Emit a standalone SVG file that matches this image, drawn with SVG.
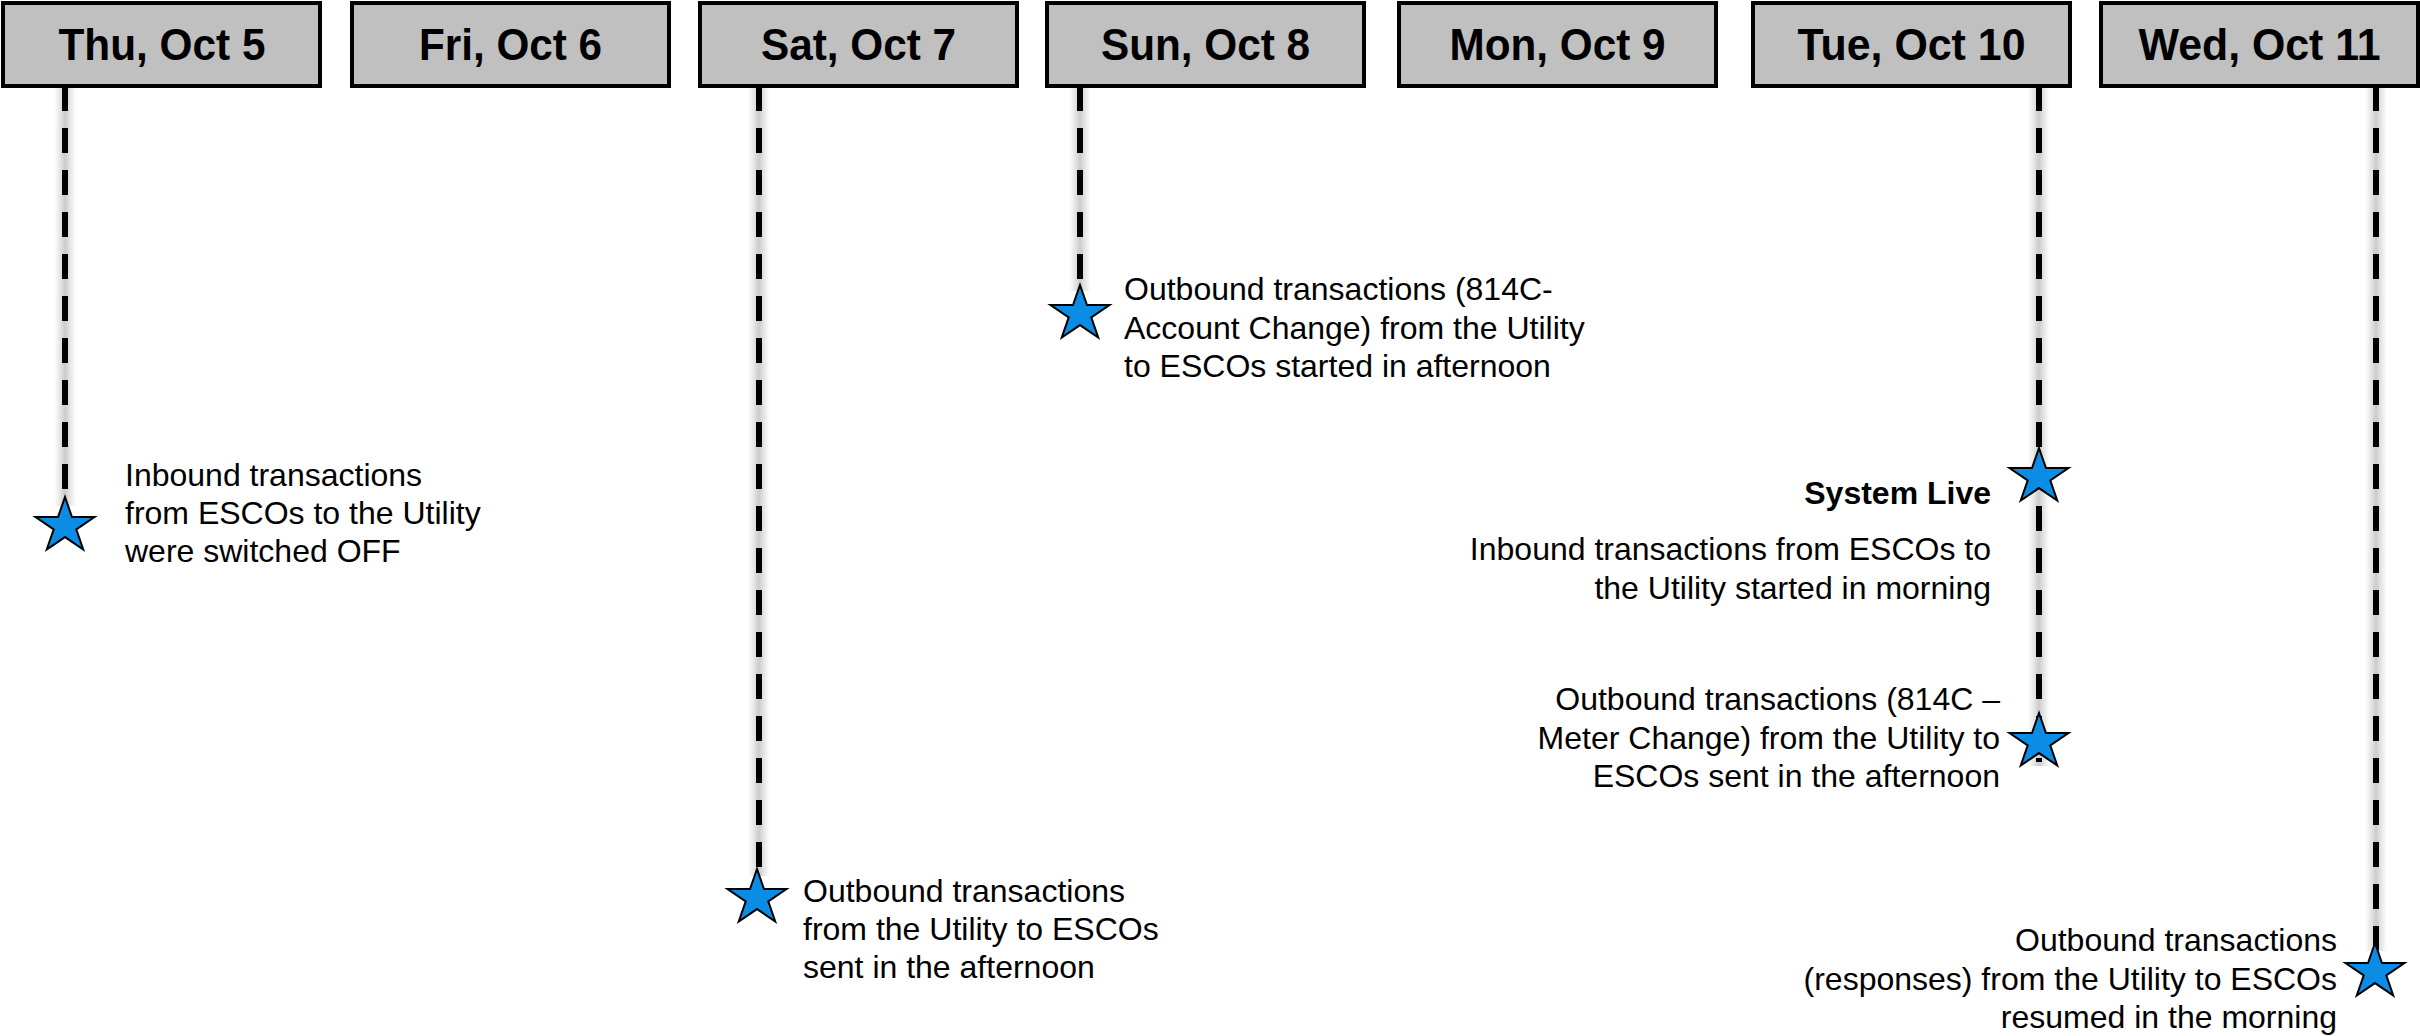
<svg xmlns="http://www.w3.org/2000/svg" width="2420" height="1036" viewBox="0 0 2420 1036">
<style>
.box{fill:#c0c0c0;stroke:#000;stroke-width:4}
.hd{font-family:"Liberation Sans",Arial,sans-serif;font-weight:bold;font-size:44px;fill:#000;text-anchor:middle}
.t{font-family:"Liberation Sans",Arial,sans-serif;font-size:32px;fill:#000}
.b{font-weight:bold}
.r{text-anchor:end}
.dash{stroke:#000;stroke-width:6;stroke-dasharray:25 17;fill:none}
.glow{fill:url(#gl)}
.star{fill:#0b8de6;stroke:#000;stroke-width:2;stroke-linejoin:miter}
</style>
<defs>
<linearGradient id="gl" x1="0" y1="0" x2="1" y2="0">
<stop offset="0" stop-color="#d4d4d4" stop-opacity="0"/>
<stop offset="0.5" stop-color="#cbcbcb" stop-opacity="1"/>
<stop offset="1" stop-color="#d4d4d4" stop-opacity="0"/>
</linearGradient>
<path id="star" d="M0,-29 L6.97,-8.96 L29.51,-8.96 L11.27,3.42 L18.24,23.46 L0,11.08 L-18.24,23.46 L-11.27,3.42 L-29.51,-8.96 L-6.97,-8.96 Z"/>
</defs>
<rect width="2420" height="1036" fill="#fff"/>
<g id="connectors">
<rect class="glow" x="54" y="86" width="22" height="420"/>
<line class="dash" x1="65" y1="86" x2="65" y2="505"/>
<rect class="glow" x="748" y="86" width="22" height="790"/>
<line class="dash" x1="759" y1="86" x2="759" y2="875"/>
<rect class="glow" x="1069" y="86" width="22" height="205"/>
<line class="dash" x1="1080" y1="86" x2="1080" y2="290"/>
<rect class="glow" x="2028" y="86" width="22" height="680"/>
<line class="dash" x1="2039" y1="86" x2="2039" y2="762"/>
<rect class="glow" x="2365" y="86" width="22" height="865"/>
<line class="dash" x1="2376" y1="86" x2="2376" y2="950"/>
</g>
<g id="hdr-thu"><rect class="box" x="3" y="3" width="317" height="83"/><text class="hd" x="162" y="60" textLength="207" lengthAdjust="spacingAndGlyphs">Thu, Oct 5</text></g>
<g id="hdr-fri"><rect class="box" x="352" y="3" width="317" height="83"/><text class="hd" x="510.5" y="60" textLength="183" lengthAdjust="spacingAndGlyphs">Fri, Oct 6</text></g>
<g id="hdr-sat"><rect class="box" x="700" y="3" width="317" height="83"/><text class="hd" x="858.5" y="60" textLength="195" lengthAdjust="spacingAndGlyphs">Sat, Oct 7</text></g>
<g id="hdr-sun"><rect class="box" x="1047" y="3" width="317" height="83"/><text class="hd" x="1205.5" y="60" textLength="209" lengthAdjust="spacingAndGlyphs">Sun, Oct 8</text></g>
<g id="hdr-mon"><rect class="box" x="1399" y="3" width="317" height="83"/><text class="hd" x="1557.5" y="60" textLength="216" lengthAdjust="spacingAndGlyphs">Mon, Oct 9</text></g>
<g id="hdr-tue"><rect class="box" x="1753" y="3" width="317" height="83"/><text class="hd" x="1911.5" y="60" textLength="228" lengthAdjust="spacingAndGlyphs">Tue, Oct 10</text></g>
<g id="hdr-wed"><rect class="box" x="2101" y="3" width="317" height="83"/><text class="hd" x="2259.5" y="60" textLength="242" lengthAdjust="spacingAndGlyphs">Wed, Oct 11</text></g>
<g id="ev-thu">
<use href="#star" class="star" x="65" y="526"/>
<text class="t" x="125" y="486"><tspan x="125">Inbound transactions</tspan><tspan x="125" dy="38">from ESCOs to the Utility</tspan><tspan x="125" dy="38">were switched OFF</tspan></text>
</g>
<g id="ev-sat">
<use href="#star" class="star" x="757" y="898"/>
<text class="t" x="803" y="902"><tspan x="803">Outbound transactions</tspan><tspan x="803" dy="38">from the Utility to ESCOs</tspan><tspan x="803" dy="38">sent in the afternoon</tspan></text>
</g>
<g id="ev-sun">
<use href="#star" class="star" x="1080" y="314"/>
<text class="t" x="1124" y="300"><tspan x="1124">Outbound transactions (814C-</tspan><tspan x="1124" dy="38.5">Account Change) from the Utility</tspan><tspan x="1124" dy="38.5">to ESCOs started in afternoon</tspan></text>
</g>
<g id="ev-tue-live">
<use href="#star" class="star" x="2039" y="477"/>
<text class="t b r" x="1991" y="504">System Live</text>
<text class="t r" x="1991" y="560"><tspan x="1991">Inbound transactions from ESCOs to</tspan><tspan x="1991" dy="38.5">the Utility started in morning</tspan></text>
</g>
<g id="ev-tue-out">
<use href="#star" class="star" x="2039" y="742"/>
<text class="t r" x="2000" y="710"><tspan x="2000">Outbound transactions (814C –</tspan><tspan x="2000" dy="38.5">Meter Change) from the Utility to</tspan><tspan x="2000" dy="38.5">ESCOs sent in the afternoon</tspan></text>
</g>
<g id="ev-wed">
<use href="#star" class="star" x="2375" y="972"/>
<text class="t r" x="2337" y="951"><tspan x="2337">Outbound transactions</tspan><tspan x="2337" dy="38.5">(responses) from the Utility to ESCOs</tspan><tspan x="2337" dy="38.5">resumed in the morning</tspan></text>
</g>
</svg>
